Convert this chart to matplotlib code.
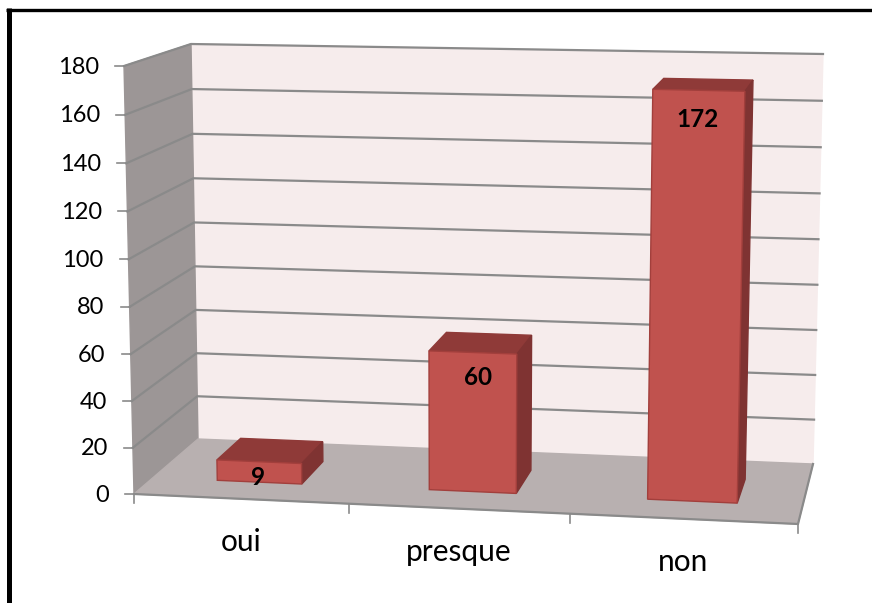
import matplotlib

matplotlib.use("Agg")
import matplotlib.pyplot as plt
import numpy as np

categories = ["oui", "presque", "non"]
values = [9, 60, 172]
y_ticks = [0, 20, 40, 60, 80, 100, 120, 140, 160, 180]

# le graphique 3D est projeté à la main sur des coordonnées pixel
V_MAX = 180
PERSP_X = 1.045
PERSP_V = 1.03
CORNERS = {
    "front_left_low": (134, 494),
    "front_left_high": (124, 66),
    "front_right_low": (798, 524),
    "front_right_high": (808, 81),
    "back_left_low": (198, 439),
    "back_left_high": (191, 44),
    "back_right_low": (813, 464),
    "back_right_high": (823, 54),
}


def warp(t, k):
    return t / (t + k * (1 - t))


def project(x, z, v):
    """x: position catégorie (0..3), z: profondeur (0..1), v: valeur."""
    t = warp(x / len(categories), PERSP_X)
    h = warp(v / V_MAX, PERSP_V)
    pts = {k: np.array(p, dtype=float) for k, p in CORNERS.items()}
    low = (1 - z) * ((1 - t) * pts["front_left_low"] + t * pts["front_right_low"]) + z * (
        (1 - t) * pts["back_left_low"] + t * pts["back_right_low"]
    )
    high = (1 - z) * ((1 - t) * pts["front_left_high"] + t * pts["front_right_high"]) + z * (
        (1 - t) * pts["back_left_high"] + t * pts["back_right_high"]
    )
    return tuple((1 - h) * low + h * high)


def face(ax, points, color, edge=None, zorder=2):
    xs, ys = zip(*points)
    ax.fill(xs, ys, facecolor=color, edgecolor=edge or color, linewidth=1.0, zorder=zorder)


plt.rcParams["font.family"] = ["Lato", "DejaVu Sans"]

fig = plt.figure(figsize=(8.72, 6.03), dpi=100)
ax = fig.add_axes([0, 0, 1, 1])
ax.set_xlim(0, 872)
ax.set_ylim(603, 0)
ax.axis("off")

# cadre noir
ax.plot([8.5, 8.5], [603, 8], color="black", lw=3.6, solid_capstyle="butt")
ax.plot([6, 872], [9.5, 9.5], color="black", lw=2.4, solid_capstyle="butt")

n = len(categories)
grid_color = "#8a8a8a"

# murs et sol
face(ax, [project(0, 1, 0), project(n, 1, 0), project(n, 1, V_MAX), project(0, 1, V_MAX)], "#f6ecec", zorder=1)
face(ax, [project(0, 0, 0), project(0, 1, 0), project(0, 1, V_MAX), project(0, 0, V_MAX)], "#9c9696", zorder=1)
face(ax, [project(0, 0, 0), project(n, 0, 0), project(n, 1, 0), project(0, 1, 0)], "#b8b0b0", zorder=1)

# grille et graduations de l'axe des valeurs
for tick in y_ticks:
    corner = project(0, 1, tick)
    front = project(0, 0, tick)
    right = project(n, 1, tick)
    if tick > 0:
        ax.plot([front[0], corner[0], right[0]], [front[1], corner[1], right[1]], color=grid_color, lw=1.6, zorder=1.5)
    ax.plot([front[0] - 9, front[0]], [front[1], front[1]], color=grid_color, lw=1.2, zorder=1.5)
    ax.text(front[0] - 25, front[1] + 1, str(tick), ha="right", va="center", fontsize=17, color="black")

# bord avant et droit du sol, graduations des catégories
floor_edge = [project(0, 0, 0), project(n, 0, 0), project(n, 1, 0)]
ax.plot(*zip(*floor_edge), color=grid_color, lw=1.6, zorder=1.6)
for i in range(n + 1):
    px, py = project(i, 0, 0)
    ax.plot([px, px], [py, py + 9], color=grid_color, lw=1.2, zorder=1.6)

# barres
BAR_START = 0.308
BAR_WIDTH = 0.402
Z_FRONT = 0.3
Z_BACK = 0.7
CATEGORY_DROP = 43
label_drop = [16, 25, 29]
label_shift = [-1, 5, -1]
for i, value in enumerate(values):
    x0 = i + BAR_START
    x1 = x0 + BAR_WIDTH
    fl, fr = project(x0, Z_FRONT, 0), project(x1, Z_FRONT, 0)
    tl, tr = project(x0, Z_FRONT, value), project(x1, Z_FRONT, value)
    bl, br = project(x0, Z_BACK, value), project(x1, Z_BACK, value)
    rb = project(x1, Z_BACK, 0)
    face(ax, [tl, tr, br, bl], "#8f3a38", zorder=3)
    face(ax, [fr, rb, br, tr], "#7f3332", zorder=3)
    face(ax, [fl, fr, tr, tl], "#c0524e", edge="#a23f3c", zorder=4)
    ax.text((tl[0] + tr[0]) / 2 + label_shift[i], (tl[1] + tr[1]) / 2 + label_drop[i], str(value),
            ha="center", va="center", fontsize=17.5, fontweight="bold", color="black", zorder=5)

    cx, cy = project(i + 0.5, 0, 0)
    ax.text(cx, cy + CATEGORY_DROP, categories[i], ha="center", va="center", fontsize=21.5, color="black")

fig.savefig("out.png", dpi=100)
plt.close(fig)
